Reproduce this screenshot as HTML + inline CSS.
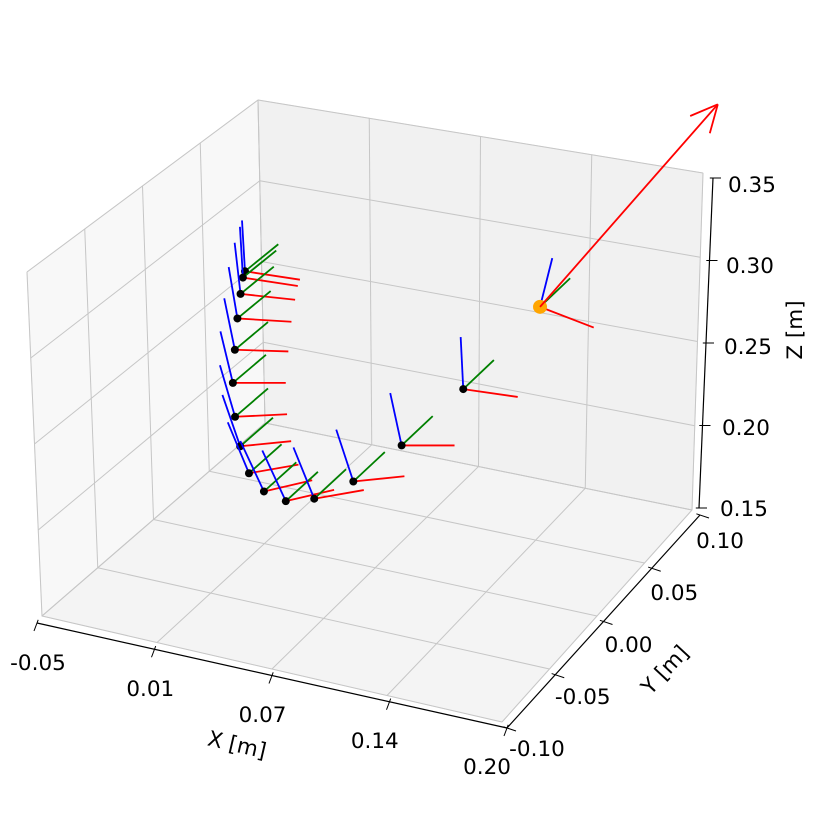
<!DOCTYPE html>
<html><head><meta charset="utf-8"><style>
html,body{margin:0;padding:0;background:#fff;}
svg text{font-family:"DejaVu Sans","Liberation Sans",sans-serif;font-size:21.5px;fill:#000;}
</style></head><body>
<svg id="chart" width="814" height="814" viewBox="0 0 814 814" xmlns="http://www.w3.org/2000/svg">
<g id="panes"></g>
<g id="grid"></g>
<g id="axes"></g>
<g id="marks"></g>
<text x="237" y="752" text-anchor="middle" transform="rotate(13 237 745)">X [m]</text>
<text x="665" y="677" text-anchor="middle" transform="rotate(-47 665 670)">Y [m]</text>
<text x="795" y="337" text-anchor="middle" transform="rotate(-90 795 330)">Z [m]</text>
</svg>
<script>
// ---- data ----
const xs = [0.0047,0.0035,0.002,0.000,-0.0018,-0.0033,-0.0025,0.000,0.0046,0.0128,0.025,0.041,0.063,0.090,0.124,0.1655];
const ys = [0,0,0,0,0,0,0,0,0,0,0,0,0,0,0,0];
const zs = [0.310,0.306,0.296,0.281,0.262,0.242,0.222,0.205,0.190,0.181,0.178,0.183,0.198,0.225,0.265,0.321];
const pitchDeg = [2,2,5,8,10,12,15,18,22,25,25,22,18,12,3,-12];
const axisLen = 0.03;
const arrowTip = [0.258,0,0.454];
const xTickLabels = ["-0.05","0.01","0.07","0.14","0.20"];
const yTickLabels = ["-0.10","-0.05","0.00","0.05","0.10"];
const zTickLabels = ["0.15","0.20","0.25","0.30","0.35"];
const xRange=[-0.05,0.20], yRange=[-0.10,0.10], zRange=[0.15,0.35];

// ---- projection (trilinear fit of box corners) ----
const C = {
 '000':[42,616],'100':[502,722],'010':[265,423],'110':[692,510],
 '001':[27,272],'101':[506,363],'011':[258,100],'111':[703,173]};
function projN(u,v,w){
  let X=0,Y=0;
  for(const a of [0,1])for(const b of [0,1])for(const c of [0,1]){
    const wt=(a?u:1-u)*(b?v:1-v)*(c?w:1-w);
    const p=C[''+a+b+c]; X+=wt*p[0]; Y+=wt*p[1];
  }
  return [X,Y];
}
function proj(x,y,z){
  return projN((x-xRange[0])/(xRange[1]-xRange[0]),(y-yRange[0])/(yRange[1]-yRange[0]),(z-zRange[0])/(zRange[1]-zRange[0]));
}
const NS='http://www.w3.org/2000/svg';
function mk(tag,parent,attrs){const e=document.createElementNS(NS,tag);for(const k in attrs)e.setAttribute(k,attrs[k]);parent.appendChild(e);return e;}
const panes=document.getElementById('panes'),grid=document.getElementById('grid'),axes=document.getElementById('axes'),marks=document.getElementById('marks'),svg=document.getElementById('chart');
function poly(pts){return pts.map(p=>p.join(',')).join(' ');}

// panes
let pl=mk('polygon',panes,{points:poly([projN(0,0,0),projN(0,1,0),projN(0,1,1),projN(0,0,1)]),fill:'#f8f8f8',stroke:'#ececec'});


let pb=mk('polygon',panes,{points:poly([projN(0,1,0),projN(1,1,0),projN(1,1,1),projN(0,1,1)]),fill:'#f1f1f1',stroke:'#e6e6e6'});


let pf=mk('polygon',panes,{points:poly([projN(0,0,0),projN(1,0,0),projN(1,1,0),projN(0,1,0)]),fill:'#f4f4f4',stroke:'#e9e9e9'});



// gridlines
function gl(a,b,name){const l=mk('line',grid,{x1:a[0],y1:a[1],x2:b[0],y2:b[1],stroke:'#c6c6c6','stroke-width':1});

}
for(let i=0;i<5;i++){const t=i/4;
  gl(projN(t,0,0),projN(t,1,0),'floor-grid-x');
  gl(projN(0,t,0),projN(1,t,0),'floor-grid-y');
  gl(projN(t,1,0),projN(t,1,1),'back-grid-x');
  gl(projN(0,1,t),projN(1,1,t),'back-grid-z');
  gl(projN(0,t,0),projN(0,t,1),'left-grid-y');
  gl(projN(0,0,t),projN(0,1,t),'left-grid-z');
}

// axis lines + ticks + labels
function axLine(a,b,name){const l=mk('line',axes,{x1:a[0],y1:a[1],x2:b[0],y2:b[1],stroke:'#000','stroke-width':1.2});

}
function lerp(a,b,t){return [a[0]+(b[0]-a[0])*t,a[1]+(b[1]-a[1])*t];}
const xa0=[37,623],xa1=[507,728],ya0=[507,728],ya1=[700,515],za0=[699,508],za1=[713,178];
axLine(xa0,xa1,'x-axis-line');axLine(ya0,ya1,'y-axis-line');axLine(za0,za1,'z-axis-line');
function tick(p,d,name){const l=mk('line',axes,{x1:p[0]-d[0]*0.4,y1:p[1]-d[1]*0.4,x2:p[0]+d[0],y2:p[1]+d[1],stroke:'#000','stroke-width':1});

}
function label(txt,p,anchor,name){const t=mk('text',svg,{x:p[0],y:p[1],'text-anchor':anchor});t.textContent=txt;

}
xTickLabels.forEach((s,i)=>{const t=i/(xTickLabels.length-1);
  tick(lerp(xa0,xa1,t),[-3,8],'x-tick');
  label(s,lerp([38,670],[487,774],t),'middle','x-tick-label');});
yTickLabels.forEach((s,i)=>{const t=i/(yTickLabels.length-1);
  tick(lerp(ya0,ya1,t),[9,3],'y-tick');
  label(s,lerp([537,756],[720,548],t),'middle','y-tick-label');});
zTickLabels.forEach((s,i)=>{const t=i/(zTickLabels.length-1);
  tick(lerp(za0,za1,t),[8,0],'z-tick');
  label(s,lerp([720,516],[728,192],t),'start','z-tick-label');});

// frames
function seg(a,b,color,name,w){const l=mk('line',marks,{x1:a[0],y1:a[1],x2:b[0],y2:b[1],stroke:color,'stroke-width':w||1.8});

return l;}
for(let i=0;i<xs.length;i++){
  const th=pitchDeg[i]*Math.PI/180,s=Math.sin(th),c=Math.cos(th),L=axisLen;
  const o=proj(xs[i],ys[i],zs[i]);
  seg(o,proj(xs[i],ys[i]+L,zs[i]),'#008000','frame-y-axis');
  seg(o,proj(xs[i]+c*L,ys[i],zs[i]+s*L),'#ff0000','frame-x-axis');
  seg(o,proj(xs[i]-s*L,ys[i],zs[i]+c*L),'#0000ff','frame-z-axis');
  const last=i===xs.length-1;
  const d=mk('circle',marks,{cx:o[0],cy:o[1],r:last?7:4,fill:last?'#ffa500':'#000'});
  
  
}
// big arrow
const li=xs.length-1;
const a0=proj(xs[li],ys[li],zs[li]), a1=proj(arrowTip[0],arrowTip[1],arrowTip[2]);
seg(a0,a1,'#ff0000','direction-arrow',1.8);
const ang=Math.atan2(a1[1]-a0[1],a1[0]-a0[0]),hl=30;
[0.45,-0.45].forEach(da=>{
  const e=[a1[0]-hl*Math.cos(ang+da),a1[1]-hl*Math.sin(ang+da)];
  seg(a1,e,'#ff0000','direction-arrow-head',1.8);
});
</script>
</body></html>
